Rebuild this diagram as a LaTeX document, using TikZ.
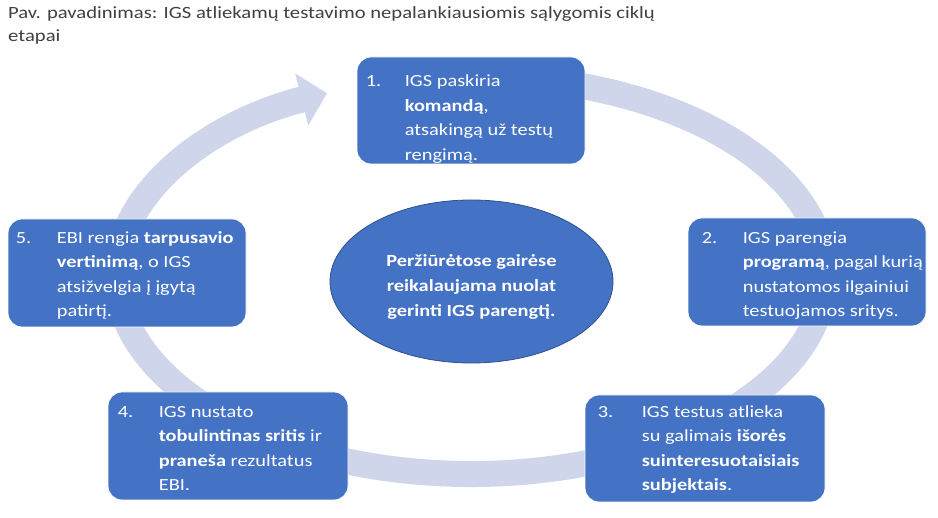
\documentclass[tikz,border=0pt]{standalone}
\usepackage{fontspec}
\setmainfont{Carlito}[FakeStretch=1.2]
\usetikzlibrary{arrows.meta,shapes.geometric}
\definecolor{stageblue}{HTML}{4472C4}
\definecolor{ringblue}{HTML}{CFD5EA}
\definecolor{ovalline}{HTML}{2F528F}
\definecolor{captiongray}{HTML}{404040}
\def\stagefont{\fontsize{17}{24.5}\selectfont}
\tikzset{
	stagebox/.style={draw=white, line width=0.8pt, fill=stageblue, rounded corners=14pt, inner sep=0pt},
	stagenum/.style={anchor=base west, inner sep=0pt, text=white, font=\stagefont},
	stagetext/.style={anchor=base west, inner sep=0pt, text=white, font=\stagefont},
	cyclearrow/.style={draw=ringblue, line width=26pt, -{Triangle[length=26pt, width=52pt]}},
	oval/.style={ellipse, draw=ovalline, line width=0.8pt, fill=stageblue, inner sep=0pt},
	ovaltext/.style={inner sep=0pt, text=white, align=center, font=\bfseries\fontsize{17}{25}\selectfont},
}

\begin{document}
\begin{tikzpicture}[x=1pt, y=1pt]
		%%%%% START %%%%%
		\useasboundingbox (0, 0) rectangle (938, 518);
		
		\node[anchor=base west, inner sep=0pt, text=captiongray, font=\fontsize{17.2}{23}\selectfont] (caption) at (8, 499) {\parbox[t]{800pt}{Pav. pavadinimas: IGS atliekamų testavimo nepalankiausiomis sąlygomis ciklų\\etapai}};
		
		% cycle
		\coordinate (hub) at (471, 243);
		\draw[cyclearrow] ([shift={(80:354pt and 199pt)}]hub) arc[start angle=80, end angle=-246, x radius=354pt, y radius=199pt];
		
		\node[oval, minimum width=283pt, minimum height=163pt] (core) at (471.5, 236.5) {};
		\node[ovaltext] (coretext) at ([yshift=-5pt]core.center) {Peržiūrėtose gairėse\\reikalaujama nuolat\\gerinti IGS parengtį.};
		
		% 1
		\node[stagebox, minimum width=228pt, minimum height=107pt] (b1) at (471, 407.5) {};
		\node[stagenum] (n1) at ([shift={(9, -30)}]b1.north west) {1.};
		\node[stagetext] (t1) at ([shift={(48, -30)}]b1.north west) {\parbox[t]{180pt}{IGS paskiria\\\textbf{komandą},\\atsakingą už testų\\rengimą.}};
		
		% 2
		\node[stagebox, minimum width=238pt, minimum height=108pt] (b2) at (807, 246) {};
		\node[stagenum] (n2) at ([shift={(14, -25.5)}]b2.north west) {2.};
		\node[stagetext] (t2) at ([shift={(55, -25.5)}]b2.north west) {\parbox[t]{180pt}{IGS parengia\\\textbf{programą}, pagal kurią\\nustatomos ilgainiui\\testuojamos sritys.}};
		
		% 3
		\node[stagebox, minimum width=240pt, minimum height=107pt] (b3) at (705, 69.5) {};
		\node[stagenum] (n3) at ([shift={(13, -22.5)}]b3.north west) {3.};
		\node[stagetext] (t3) at ([shift={(57, -22.5)}]b3.north west) {\parbox[t]{180pt}{IGS testus atlieka\\su galimais \textbf{išorės}\\\textbf{suinteresuotaisiais}\\\textbf{subjektais}.}};
		
		% 4
		\node[stagebox, minimum width=240pt, minimum height=108pt] (b4) at (228, 72) {};
		\node[stagenum] (n4) at ([shift={(10, -25.5)}]b4.north west) {4.};
		\node[stagetext] (t4) at ([shift={(51, -25.5)}]b4.north west) {\parbox[t]{180pt}{IGS nustato\\\textbf{tobulintinas sritis} ir\\\textbf{praneša} rezultatus\\EBI.}};
		
		% 5
		\node[stagebox, minimum width=238pt, minimum height=108pt] (b5) at (127, 245) {};
		\node[stagenum] (n5) at ([shift={(8, -24.5)}]b5.north west) {5.};
		\node[stagetext] (t5) at ([shift={(49, -24.5)}]b5.north west) {\parbox[t]{180pt}{EBI rengia \textbf{tarpusavio}\\\textbf{vertinimą}, o IGS\\atsižvelgia į įgytą\\patirtį.}};
		
		%%%%% END %%%%%
\end{tikzpicture}
\end{document}
